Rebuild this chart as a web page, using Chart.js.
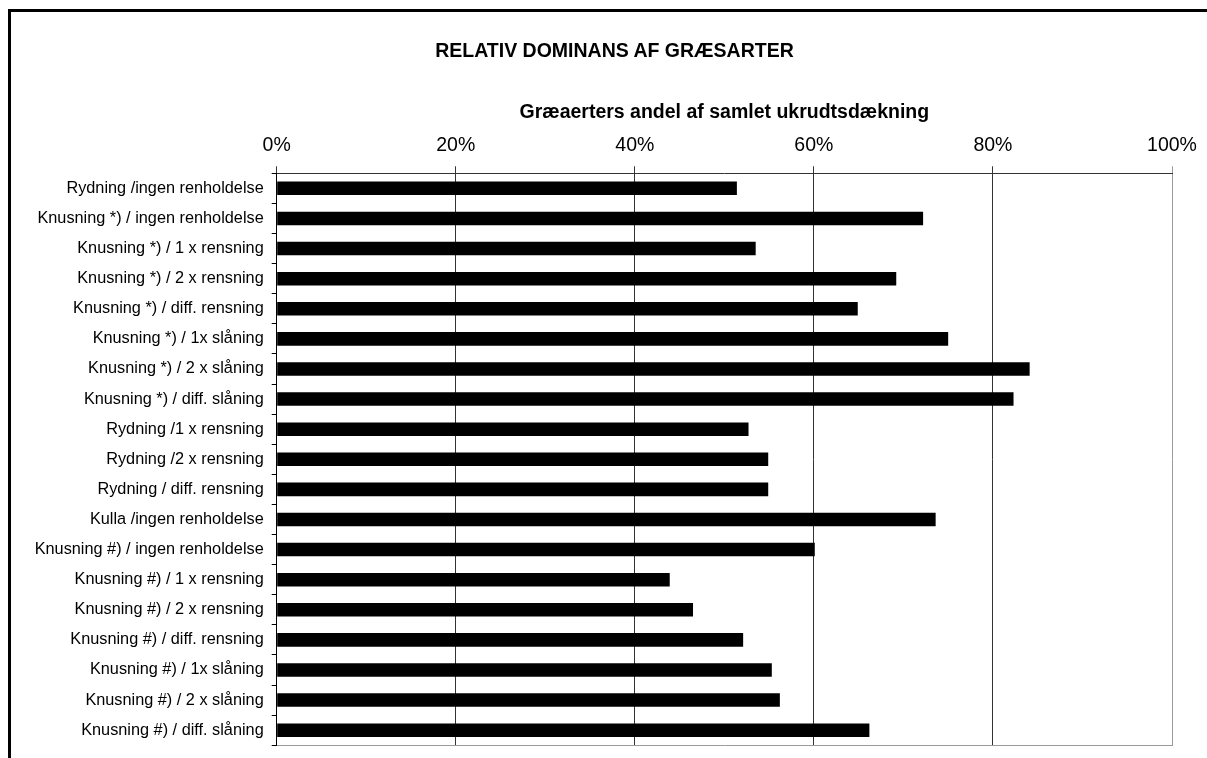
<!DOCTYPE html>
<html>
<head>
<meta charset="utf-8">
<script src="https://cdn.jsdelivr.net/npm/chart.js@4/dist/chart.umd.min.js"></script>
<style>
  html, body { margin: 0; padding: 0; background: #fff; overflow: hidden; }
  #frame { position: absolute; left: 8px; top: 9px; width: 1400px; height: 900px; border-top: 3px solid #000; border-left: 3px solid #000; }
  #wrap { position: absolute; left: 0; top: 0; width: 1207px; height: 763px; }
  #title { position: absolute; left: 0; width: 1229px; top: 39px; line-height: 24px; text-align: center;
           font: bold 19.5px 'Liberation Sans', Arial, sans-serif; color: #000; }
</style>
</head>
<body>
<div id="frame"></div>
<div id="wrap"><canvas id="chart" width="1207" height="763"></canvas></div>
<div id="title">RELATIV DOMINANS AF GRÆSARTER</div>
<script>
const categories = [
  'Rydning /ingen renholdelse',
  'Knusning *) / ingen renholdelse',
  'Knusning *) / 1 x rensning',
  'Knusning *) / 2 x rensning',
  'Knusning *) / diff. rensning',
  'Knusning *) / 1x slåning',
  'Knusning *) / 2 x slåning',
  'Knusning *) / diff. slåning',
  'Rydning /1 x rensning',
  'Rydning /2 x rensning',
  'Rydning / diff. rensning',
  'Kulla /ingen renholdelse',
  'Knusning #) / ingen renholdelse',
  'Knusning #) / 1 x rensning',
  'Knusning #) / 2 x rensning',
  'Knusning #) / diff. rensning',
  'Knusning #) / 1x slåning',
  'Knusning #) / 2 x slåning',
  'Knusning #) / diff. slåning'
];
const shares = [51.4, 72.2, 53.5, 69.2, 64.9, 75.0, 84.1, 82.3, 52.7, 54.9, 54.9, 73.6, 60.1, 43.9, 46.5, 52.1, 55.3, 56.2, 66.2];
const xTicks = [0, 20, 40, 60, 80, 100];

const font = 'Liberation Sans, Arial, sans-serif';

new Chart(document.getElementById('chart'), {
  type: 'bar',
  data: {
    labels: categories,
    datasets: [{
      data: shares,
      backgroundColor: '#000',
      borderWidth: 0,
      barPercentage: 0.45,
      categoryPercentage: 1
    }]
  },
  options: {
    indexAxis: 'y',
    responsive: false,
    animation: false,
    layout: { padding: { left: 12, right: 35, top: 62, bottom: 0 } },
    plugins: {
      legend: { display: false },
      tooltip: { enabled: false }
    },
    scales: {
      x: {
        position: 'top',
        min: 0,
        max: 100,
        afterBuildTicks: s => { s.ticks = xTicks.map(v => ({ value: v })); },
        afterFit: s => { s.height = 111.3; },
        ticks: {
          color: '#000',
          padding: 8.6,
          font: { family: font, size: 19.5 },
          callback: v => v + '%'
        },
        grid: {
          color: ctx => ctx.index === xTicks.length - 1 ? '#9a9a9a' : '#333',
          lineWidth: 1,
          tickLength: 7
        },
        border: { color: '#333', width: 1 },
        title: {
          display: true,
          text: 'Græaerters andel af samlet ukrudtsdækning',
          color: '#000',
          font: { family: font, size: 19.5, weight: 'bold' },
          padding: { top: 38.5, bottom: 0 }
        }
      },
      x2: {
        position: 'bottom',
        min: 0,
        max: 100,
        afterFit: s => { s.height = 0; },
        ticks: { display: false },
        grid: { display: false },
        border: { color: '#9a9a9a', width: 1 }
      },
      y: {
        afterFit: s => { s.width = 264.7; },
        ticks: {
          color: '#000',
          padding: 8,
          font: { family: font, size: 16.3 }
        },
        grid: {
          drawOnChartArea: false,
          color: '#000',
          tickLength: 5
        },
        border: { color: '#000', width: 1 }
      }
    }
  }
});
</script>
</body>
</html>
